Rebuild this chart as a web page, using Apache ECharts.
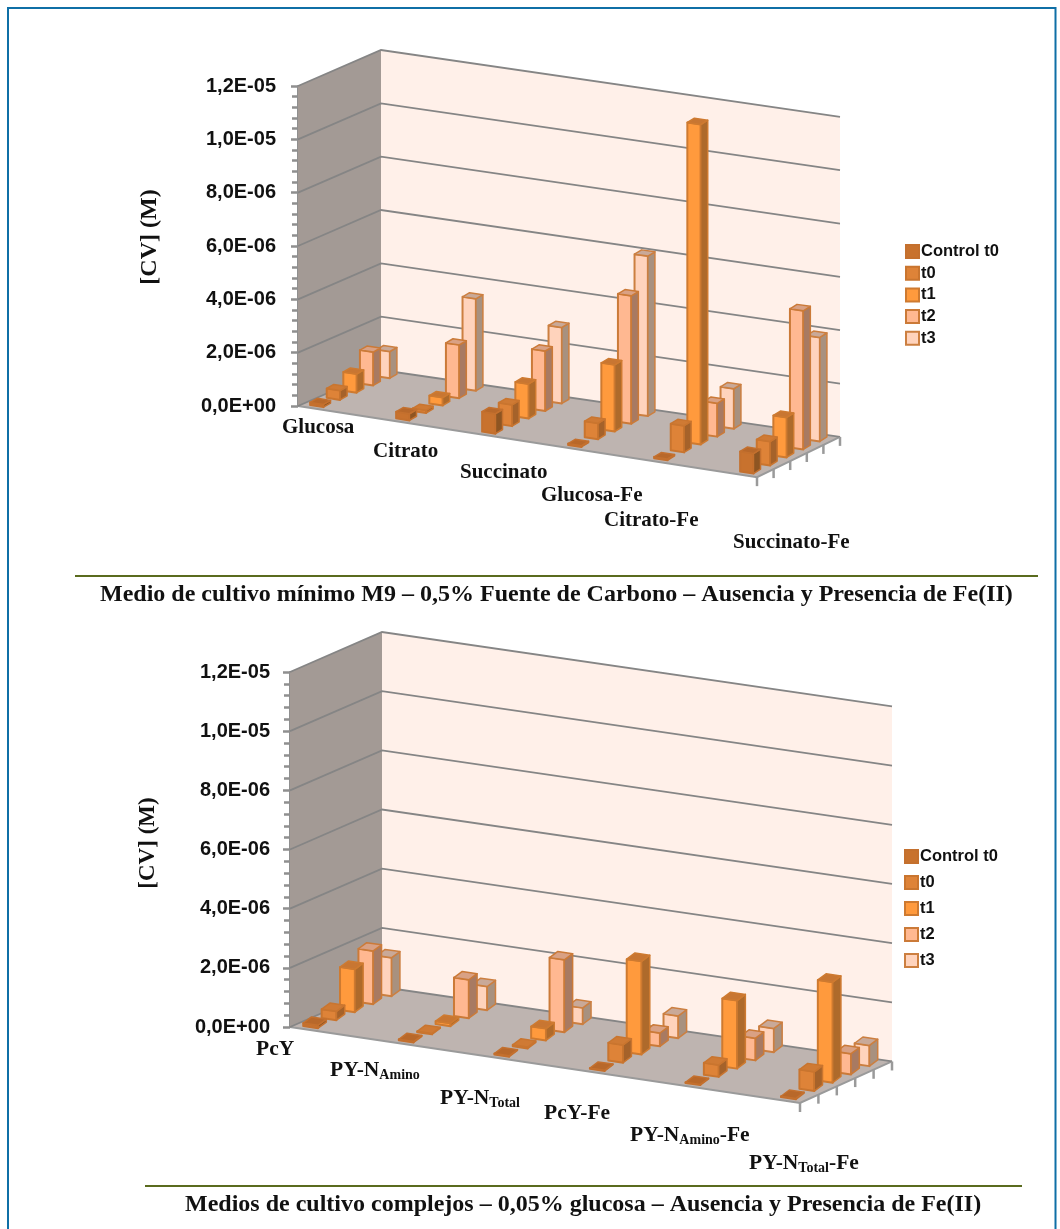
<!DOCTYPE html>
<html><head><meta charset="utf-8">
<style>html,body{margin:0;padding:0;background:#fff}#c{width:1060px;height:1229px}</style>
<script src="https://cdn.jsdelivr.net/npm/echarts@6/dist/echarts.min.js"></script>
</head><body><div id="c"></div>
<script>
const seriesNames = ['Control t0','t0','t1','t2','t3'];
const yTicks = [0,2e-6,4e-6,6e-6,8e-6,1e-5,1.2e-5];
const depthTicks = [0,1,2,3,4,5];

const categoriesA = ['Glucosa','Citrato','Succinato','Glucosa-Fe','Citrato-Fe','Succinato-Fe'];
const controlA = [1.0e-7,2.5e-7,7.5e-7,5e-8,5e-8,7.5e-7];
const t0A = [3.5e-7,1e-7,8e-7,6e-7,1.0e-6,9e-7];
const t1A = [7e-7,3e-7,1.3e-6,2.5e-6,1.2e-5,1.5e-6];
const t2A = [1.25e-6,2.0e-6,2.25e-6,4.8e-6,1.25e-6,5.2e-6];
const t3A = [1.0e-6,3.45e-6,2.85e-6,6.0e-6,1.5e-6,3.9e-6];

const categoriesB = ['PcY','PY-N{s|Amino}','PY-N{s|Total}','PcY-Fe','PY-N{s|Amino}-Fe','PY-N{s|Total}-Fe'];
const controlB = [1e-7,3e-8,3e-8,2e-8,2e-8,3e-8];
const t0B = [3e-7,3e-8,5e-8,6e-7,4e-7,6.5e-7];
const t1B = [1.45e-6,1e-7,4e-7,3.15e-6,2.3e-6,3.4e-6];
const t2B = [1.8e-6,1.3e-6,2.45e-6,4.5e-7,7.5e-7,7e-7];
const t3B = [1.3e-6,8e-7,5.5e-7,7.5e-7,8e-7,7e-7];

const titleA = 'Medio de cultivo mínimo M9 – 0,5% Fuente de Carbono – Ausencia y Presencia de Fe(II)';
const titleB = 'Medios de cultivo complejos – 0,05% glucosa – Ausencia y Presencia de Fe(II)';
const yName = '[CV] (M)';

// projection and layout, kept apart from the data
const xMin = -0.163, xMax = 5.174, yMax = 1.2e-5;
const views = [
  {left:298,top:86,width:459,height:320,sF:.155,sB:.1457,dx:83,dy:36,dw:.085,lift:1,labelMargin:22,labelPad:[3,0,0,0],series:[controlA,t0A,t1A,t2A,t3A]},
  {left:290,top:672,width:510,height:355,sF:.149,sB:.146,dx:92,dy:40,dw:.09,lift:2.5,labelMargin:20,labelPad:[0,0,0,0],series:[controlB,t0B,t1B,t2B,t3B]}
];
const looks = [
  {face:'#C8722E',side:'#8E5522',top:'#B8682A',edge:'#C4702E'},
  {face:'#DE8338',side:'#A5622A',top:'#CF7A34',edge:'#C9752F'},
  {face:'#FF9A3D',side:'#AE6A2B',top:'#C87632',edge:'#CE7A30'},
  {face:'#FFB891',side:'#A87A62',top:'#D9A184',edge:'#CB7A38'},
  {face:'#FFD3BC',side:'#A8917F',top:'#C9A998',edge:'#CC7F40'}
];
const serif = '"Liberation Serif","Times New Roman",serif';
const sans = '"Liberation Sans",Arial,sans-serif';

function proj(api,v,x,val,d){
  const p = api.coord([x,val]);
  const s = v.sF + d*(v.sB-v.sF);
  return [p[0]+d*v.dx, p[1]+(p[0]-v.left)*s-d*v.dy];
}
function poly(points,fill,stroke,lw){
  return {type:'polygon',shape:{points},style:{fill,stroke:stroke||null,lineWidth:lw||0,lineJoin:'round'}};
}
function line(points,stroke,lw){
  return {type:'polyline',shape:{points},style:{fill:null,stroke,lineWidth:lw}};
}
function planes(v){return (p,api)=>({type:'group',children:[
  poly([proj(api,v,xMin,0,0),proj(api,v,xMin,0,1),proj(api,v,xMin,yMax,1),proj(api,v,xMin,yMax,0)],'#A39A95'),
  poly([proj(api,v,xMin,0,1),proj(api,v,xMax,0,1),proj(api,v,xMax,yMax,1),proj(api,v,xMin,yMax,1)],'#FFF0E9'),
  poly([proj(api,v,xMin,0,0),proj(api,v,xMax,0,0),proj(api,v,xMax,0,1),proj(api,v,xMin,0,1)],'#BEB4B0'),
  line([proj(api,v,xMin,0,0),proj(api,v,xMax,0,0),proj(api,v,xMax,0,1)],'#9A9A9A',2)
]});}
function gridLines(v){return (p,api)=>{
  const val=api.value(1);
  return line([proj(api,v,xMin,val,0),proj(api,v,xMin,val,1),proj(api,v,xMax,val,1)],'#858585',1.8);
};}
function depthTick(v){return (p,api)=>{
  const a=proj(api,v,xMax,0,api.value(0)/5);
  return line([a,[a[0],a[1]+9]],'#9A9A9A',2.5);
};}
function box(v,i){
  const look=looks[i], w=.155, dc=(i+.5)/5, dw=v.dw;
  return (p,api)=>{
    const c=api.value(0), val=api.value(1);
    const x0=c-w/2, x1=c+w/2, d0=dc-dw/2, d1=dc+dw/2;
    const back=pt=>[pt[0],pt[1]-v.lift];
    const a=proj(api,v,x0,0,d0), b=proj(api,v,x1,0,d0), e=proj(api,v,x1,val,d0), f=proj(api,v,x0,val,d0);
    const g=back(proj(api,v,x1,0,d1)), h=back(proj(api,v,x1,val,d1)), k=back(proj(api,v,x0,val,d1));
    return {type:'group',children:[
      poly([a,b,e,f],look.face,look.edge,2),
      poly([b,g,h,e],look.side,look.edge,1.5),
      poly([f,e,h,k],look.top,look.edge,1.5)
    ]};
  };
}

const grid=[],xAxis=[],yAxis=[],series=[];
views.forEach((v,n)=>{
  grid.push({left:v.left,top:v.top,width:v.width,height:v.height});
  xAxis.push({gridIndex:n,type:'value',min:xMin,max:xMax,show:false});
  yAxis.push({gridIndex:n,type:'value',min:0,max:yMax,interval:2e-6,
    axisLine:{show:true,onZero:false,lineStyle:{color:'#8F8F8F',width:2}},
    axisTick:{show:true,length:7,lineStyle:{color:'#8F8F8F',width:2.5}},
    minorTick:{show:true,splitNumber:5,length:6,lineStyle:{color:'#8F8F8F',width:2.5}},
    splitLine:{show:false},
    axisLabel:{margin:v.labelMargin,padding:v.labelPad,fontFamily:sans,fontWeight:'bold',fontSize:20,color:'#111',
      formatter:val=>val.toExponential(1).replace('.',',').replace('e-','E-').replace('e+','E+').replace(/E([-+])(\d)$/,'E$10$2')}
  });
  const ax={xAxisIndex:n,yAxisIndex:n,type:'custom',silent:true};
  series.push({...ax,name:'planes',z:1,renderItem:planes(v),data:[[xMin,0]]});
  series.push({...ax,name:'lines',z:2,renderItem:gridLines(v),data:yTicks.map(t=>[xMin,t])});
  series.push({...ax,name:'depth',z:2,renderItem:depthTick(v),data:depthTicks.map(t=>[t,0])});
  seriesNames.forEach((name,i)=>{
    series.push({...ax,name,z:10-i,renderItem:box(v,i),
      itemStyle:{color:looks[i].face,borderColor:looks[i].edge,borderWidth:2},
      encode:{x:0,y:1},
      data:v.series[i].map((y,c)=>[c,y])});
  });
});

const rich={s:{fontFamily:serif,fontWeight:'bold',fontSize:14,fill:'#111',verticalAlign:'bottom',padding:[10,0,0,0]}};
function catText(text,x,y,size){return {type:'text',left:x,top:y-11,silent:true,style:{fontFamily:serif,fontWeight:'bold',fontSize:size,fill:'#111',text,rich:{...rich}}};}
const labelSpots=[[[282,428],[373,452],[460,473],[541,496],[604,521],[733,543]],
                  [[256,1049],[330,1070],[440,1098],[544,1113],[630,1135],[749,1163]]];
const labelTexts=[categoriesA,categoriesB];
const labelSizes=[21,21.5];
const graphic=[
  {type:'rect',silent:true,shape:{x:8,y:8,width:1047.5,height:1240},style:{fill:null,stroke:'#0F6FA6',lineWidth:2}},
  {type:'rect',silent:true,shape:{x:75,y:575,width:963,height:2},style:{fill:'#5A6B1E'}},
  {type:'rect',silent:true,shape:{x:145,y:1185,width:877,height:2},style:{fill:'#5A6B1E'}},
  {type:'text',silent:true,x:150,y:237,rotation:Math.PI/2,style:{text:yName,align:'center',verticalAlign:'middle',fontFamily:serif,fontWeight:'bold',fontSize:24,fill:'#111'}},
  {type:'text',silent:true,x:148,y:843,rotation:Math.PI/2,style:{text:yName,align:'center',verticalAlign:'middle',fontFamily:serif,fontWeight:'bold',fontSize:23,fill:'#111'}}
];
labelTexts.forEach((arr,n)=>arr.forEach((t,i)=>graphic.push(catText(t,labelSpots[n][i][0],labelSpots[n][i][1],labelSizes[n]))));

const legendBase={orient:'vertical',data:seriesNames,icon:'rect',itemWidth:13,itemHeight:13,selectedMode:false,
  textStyle:{fontFamily:sans,fontWeight:'bold',fontSize:16.5,color:'#111',padding:[0,0,0,-3]}};
const option={animation:false,backgroundColor:'#fff',
  grid,xAxis,yAxis,series,graphic,
  legend:[{...legendBase,left:900,top:238,itemGap:4.7},{...legendBase,left:899,top:843,itemGap:9}],
  title:[
    {text:titleA,left:100,top:583,padding:0,textStyle:{fontFamily:serif,fontWeight:'bold',fontSize:24,color:'#111'}},
    {text:titleB,left:185,top:1193,padding:0,textStyle:{fontFamily:serif,fontWeight:'bold',fontSize:24,color:'#111'}}
  ]
};
echarts.init(document.getElementById('c'),null,{renderer:'canvas'}).setOption(option);
</script></body></html>
